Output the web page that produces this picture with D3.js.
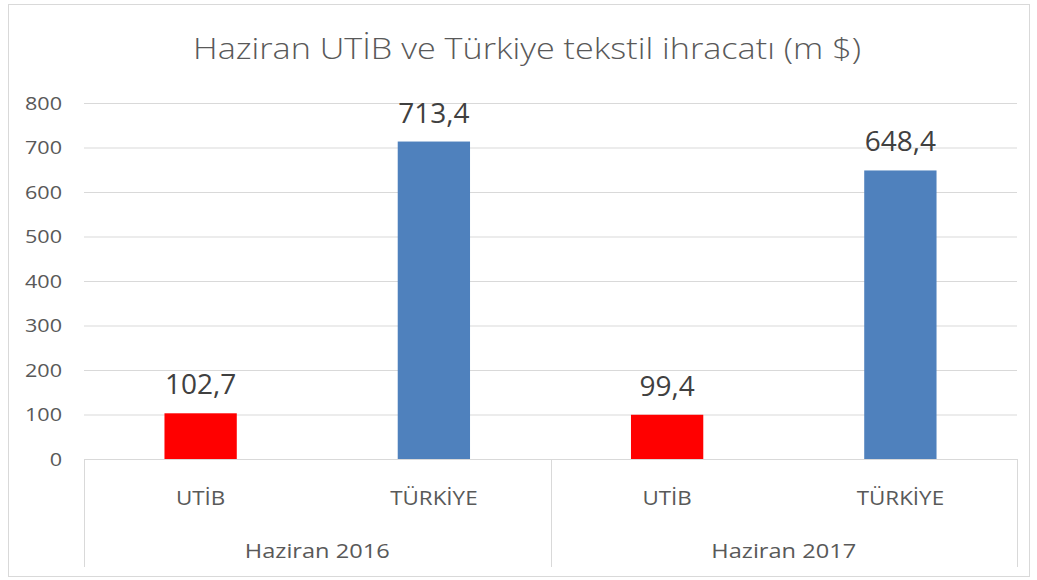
<!DOCTYPE html>
<html>
<head>
<meta charset="utf-8">
<script src="https://cdn.jsdelivr.net/npm/d3@7"></script>
<style>
  body { margin: 0; background: #fff; }
  text { font-family: 'Open Sans', sans-serif; }
</style>
</head>
<body>
<div id="chart"></div>
<script>
// data
let groups = ['Haziran 2016', 'Haziran 2017']
let series = ['UTİB', 'TÜRKİYE']
let values2016 = [102.7, 713.4]
let values2017 = [99.4, 648.4]
let yTicks = [0, 100, 200, 300, 400, 500, 600, 700, 800]
let colors = ['#ff0000', '#4f81bd']

let title = 'Haziran UTİB ve Türkiye tekstil ihracatı (m $)'

let datapoints = []
groups.forEach((g, i) => {
  let vals = i === 0 ? values2016 : values2017
  series.forEach((s, j) => datapoints.push({ group: g, name: s, value: vals[j], idx: j }))
})

let W = 1037
let H = 580
let margin = { top: 103, left: 84, right: 20, bottom: 121 }
let width = W - margin.left - margin.right
let height = H - margin.top - margin.bottom

let root = d3.select('#chart')
  .append('svg')
  .attr('width', W)
  .attr('height', H)

// outer chart frame
root.append('rect')
  .attr('x', 8.5).attr('y', 4.5)
  .attr('width', 1021).attr('height', 572)
  .attr('fill', '#fff')
  .attr('stroke', '#d9d9d9')

root.append('text')
  .attr('text-anchor', 'middle')
  .attr('transform', 'translate(527,59) scale(1.14,1)')
  .attr('font-size', 30)
  .attr('font-weight', 300)
  .attr('fill', '#595959')
  .text(title)

let svg = root.append('g')
  .attr('transform', 'translate(' + margin.left + ',' + margin.top + ')')

let y = d3.scaleLinear().domain([0, 800]).range([height, 0])

let x0 = d3.scaleBand().domain(groups).range([0, width]).padding(0)
let x1 = d3.scaleBand().domain(series).range([0, x0.bandwidth()])
  .paddingInner(0.69).paddingOuter(0.345)

// y axis + gridlines
let yAxis = svg.append('g')
  .call(d3.axisLeft(y).tickValues(yTicks).tickSize(-width).tickFormat(d3.format('d')))

yAxis.select('.domain').remove()
yAxis.selectAll('line').attr('stroke', '#d9d9d9')
yAxis.selectAll('text')
  .attr('x', 0)
  .attr('dy', '0.34em')
  .attr('transform', 'translate(-22,0) scale(1.2,1)')
  .attr('font-size', 18)
  .attr('font-family', "'Open Sans', sans-serif")
  .attr('fill', '#595959')

// bars
svg.append('g')
  .selectAll('rect')
  .data(datapoints)
  .enter()
  .append('rect')
  .attr('x', d => x0(d.group) + x1(d.name))
  .attr('y', d => y(d.value))
  .attr('width', x1.bandwidth())
  .attr('height', d => height - y(d.value))
  .attr('fill', d => colors[d.idx])

// value labels
svg.append('g')
  .selectAll('text')
  .data(datapoints)
  .enter()
  .append('text')
  .attr('x', d => x0(d.group) + x1(d.name) + x1.bandwidth() / 2)
  .attr('y', d => y(d.value) - 19)
  .attr('text-anchor', 'middle')
  .attr('font-size', 28)
  .attr('fill', '#404040')
  .text(d => d3.format('.1f')(d.value).replace('.', ','))

// multi-level category axis
let catAxis = svg.append('g').attr('transform', `translate(0,${height})`)

catAxis.append('line')
  .attr('x1', 0).attr('x2', width)
  .attr('y1', 0.5).attr('y2', 0.5)
  .attr('stroke', '#d9d9d9')

let edges = groups.map(g => x0(g)).concat([width])
catAxis.selectAll('.edge')
  .data(edges)
  .enter()
  .append('line')
  .attr('class', 'edge')
  .attr('x1', d => Math.round(d) + 0.5).attr('x2', d => Math.round(d) + 0.5)
  .attr('y1', 0).attr('y2', 108)
  .attr('stroke', '#d9d9d9')

catAxis.selectAll('.sub-label')
  .data(datapoints)
  .enter()
  .append('text')
  .attr('class', 'sub-label')
  .attr('text-anchor', 'middle')
  .attr('font-size', 20)
  .attr('fill', '#595959')
  .attr('transform', d => `translate(${x0(d.group) + x1(d.name) + x1.bandwidth() / 2},46) scale(1.12,1)`)
  .text(d => d.name)

catAxis.selectAll('.group-label')
  .data(groups)
  .enter()
  .append('text')
  .attr('class', 'group-label')
  .attr('text-anchor', 'middle')
  .attr('font-size', 20)
  .attr('fill', '#595959')
  .attr('transform', d => `translate(${x0(d) + x0.bandwidth() / 2},99) scale(1.18,1)`)
  .text(d => d)
</script>
</body>
</html>
